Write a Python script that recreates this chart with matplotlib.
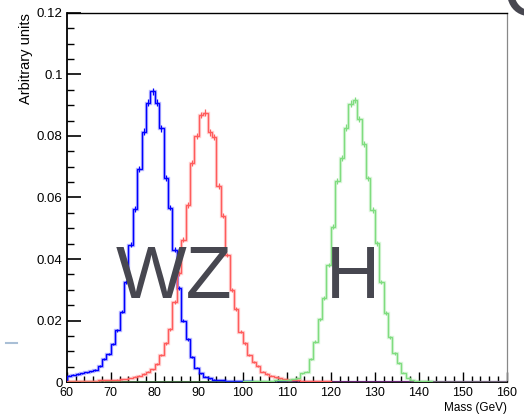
import numpy as np
import matplotlib
matplotlib.use("Agg")
import matplotlib.pyplot as plt
from matplotlib.ticker import MultipleLocator, FuncFormatter
from matplotlib.lines import Line2D

plt.rcParams["font.family"] = ["Liberation Sans", "DejaVu Sans"]

# 1 GeV bins from 60 to 160
bin_edges = np.arange(60, 161, 1)

w_boson = [
    0.0020, 0.0023, 0.0026, 0.0028, 0.0031, 0.0035, 0.0039, 0.0052, 0.0074, 0.0091,
    0.0124, 0.0169, 0.0229, 0.0326, 0.0446, 0.0562, 0.0692, 0.0814, 0.0908, 0.0946,
    0.0908, 0.0825, 0.0664, 0.0567, 0.0430, 0.0305, 0.0199, 0.0139, 0.0082, 0.0047,
    0.0028, 0.0017, 0.0012, 0.0008, 0.0006, 0.0005, 0.0004, 0.0003, 0.0003, 0.0002,
    0.0002, 0.0002, 0.0001, 0.0001, 0.0001, 0.0001, 0.0001, 0.0001, 0.0001, 0.0001,
    0.0001, 0.0001, 0.0001, 0.0001, 0.0001, 0.0, 0.0, 0.0, 0.0, 0.0,
] + [0.0] * 40

z_boson = [
    0.0002, 0.0002, 0.0003, 0.0003, 0.0003, 0.0004, 0.0004, 0.0005, 0.0005, 0.0006,
    0.0007, 0.0008, 0.0009, 0.0010, 0.0013, 0.0017, 0.0021, 0.0026, 0.0034, 0.0041,
    0.0058, 0.0088, 0.0126, 0.0171, 0.0261, 0.0353, 0.0462, 0.0576, 0.0711, 0.0800,
    0.0868, 0.0876, 0.0812, 0.0796, 0.0637, 0.0541, 0.0413, 0.0299, 0.0237, 0.0164,
    0.0126, 0.0088, 0.0066, 0.0052, 0.0034, 0.0026, 0.0020, 0.0015, 0.0012, 0.0010,
    0.0008, 0.0006, 0.0005, 0.0004, 0.0003, 0.0003, 0.0002, 0.0002, 0.0002, 0.0002,
] + [0.0001] * 40

higgs = [0.0] * 40 + [
    0.0002, 0.0002, 0.0003, 0.0003, 0.0003, 0.0004, 0.0004, 0.0005, 0.0006, 0.0007,
    0.0008, 0.0010, 0.0013, 0.0028, 0.0034, 0.0074, 0.0131, 0.0204, 0.0272, 0.0380,
    0.0505, 0.0654, 0.0729, 0.0827, 0.0905, 0.0917, 0.0855, 0.0773, 0.0662, 0.0559,
    0.0451, 0.0326, 0.0225, 0.0145, 0.0093, 0.0061, 0.0030, 0.0013, 0.0007, 0.0004,
    0.0003, 0.0002, 0.0002, 0.0001, 0.0001, 0.0001, 0.0, 0.0, 0.0, 0.0,
    0.0, 0.0, 0.0, 0.0, 0.0, 0.0, 0.0, 0.0, 0.0, 0.0,
]

series = [
    (w_boson, "#0000ff"),
    (z_boson, "#ff5c5c"),
    (higgs, "#7fdc7f"),
]

fig = plt.figure(figsize=(5.24, 4.15), dpi=100)
ax = fig.add_axes([0.1273, 0.0795, 0.8397, 0.8892])

centers = 0.5 * (bin_edges[:-1] + bin_edges[1:])
for values, color in series:
    values = np.asarray(values)
    # faint halo + main step line, like the ROOT canvas
    ax.stairs(values, bin_edges, color=color, lw=2.4, alpha=0.28, zorder=3)
    ax.stairs(values, bin_edges, color=color, lw=1.0, zorder=4)
    keep = values > 0
    # poisson-like error crosses
    ax.errorbar(centers[keep], values[keep], yerr=0.0037 * np.sqrt(values[keep]),
                fmt="none", ecolor=color, elinewidth=0.9, capsize=0, zorder=4)

ax.set_xlim(60, 160)
ax.set_ylim(0, 0.12)

ax.xaxis.set_major_locator(MultipleLocator(10))
ax.xaxis.set_minor_locator(MultipleLocator(2))
ax.yaxis.set_major_locator(MultipleLocator(0.02))
ax.yaxis.set_minor_locator(MultipleLocator(0.005))
ax.yaxis.set_major_formatter(FuncFormatter(lambda v, p: "%g" % round(v, 3)))

ax.tick_params(axis="y", which="major", direction="in", length=10, width=1.2,
               labelsize=9.5, pad=3)
ax.tick_params(axis="y", which="minor", direction="in", length=5, width=1.0)
ax.tick_params(axis="x", which="major", direction="in", length=7.5, width=1.0,
               labelsize=9, pad=3.5)
ax.tick_params(axis="x", which="minor", direction="in", length=4, width=1.0)

ax.spines["left"].set_linewidth(1.3)
ax.spines["bottom"].set_linewidth(1.3)
ax.spines["top"].set_linewidth(1.0)
ax.spines["right"].set_linewidth(0.9)
ax.spines["right"].set_color("#888888")

ax.set_ylabel("Arbitrary units", fontsize=10.5, loc="top")
ax.yaxis.set_label_coords(-0.077, 1.0)
ax.set_xlabel("Mass (GeV)", fontsize=8.5, loc="right", labelpad=2)

ax.text(71.2, 0.0273, "WZ", fontsize=54, color="#474750", ha="left", va="baseline",
        zorder=5)
ax.text(118.8, 0.0273, "H", fontsize=54, color="#474750", ha="left", va="baseline",
        zorder=5)

# bits of the original slide that show around the canvas
fig.text(0.958, 0.962, "C", fontsize=54, color="#474750", ha="left", va="baseline")
fig.add_artist(Line2D([0.012, 0.032], [0.174, 0.174], color="#a9bfd6", lw=1.5))

fig.savefig("out.png", dpi=100)
